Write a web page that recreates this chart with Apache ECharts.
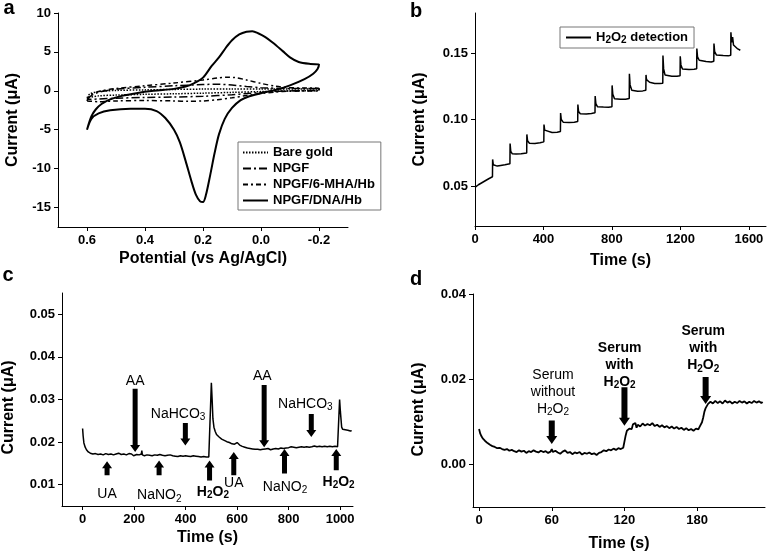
<!DOCTYPE html>
<html>
<head>
<meta charset="utf-8">
<script src="https://cdn.jsdelivr.net/npm/echarts@6/dist/echarts.min.js"></script>
<style>html,body{margin:0;padding:0;background:#fff;}</style>
</head>
<body>
<div id="main" style="width:768px;height:556px;"></div>
<script>
var FONT = 'Liberation Sans, Arial, Helvetica, sans-serif';

// ---- panel a : cyclic voltammograms [potential V, current uA]
var cvNames = ['Bare gold', 'NPGF', 'NPGF/6-MHA/Hb', 'NPGF/DNA/Hb'];
var cvBare = [[0.6,-0.9],[0.59,-0.4],[0.56,-0.1],[0.5,0.05],[0.4,0.12],[0.3,0.18],[0.2,0.22],[0.1,0.22],[0.0,0.22],[-0.1,0.22],[-0.2,0.25],
  [-0.2,0.05],[-0.1,0.0],[0.0,-0.1],[0.1,-0.2],[0.2,-0.3],[0.3,-0.38],[0.4,-0.45],[0.5,-0.55],[0.56,-0.65],[0.6,-0.9]];
var cvNpgf = [[0.6,-1.1],[0.58,-0.5],[0.55,-0.1],[0.5,0.2],[0.4,0.45],[0.3,0.65],[0.2,0.8],[0.15,0.85],[0.1,0.75],[0.05,0.55],[0.0,0.4],[-0.1,0.3],[-0.2,0.3],
  [-0.2,0.1],[-0.1,0.0],[0.0,-0.2],[0.05,-0.35],[0.1,-0.5],[0.2,-0.7],[0.3,-0.8],[0.4,-0.85],[0.5,-0.95],[0.56,-1.05],[0.6,-1.1]];
var cvMha = [[0.6,-1.3],[0.59,-0.6],[0.56,-0.1],[0.5,0.3],[0.4,0.65],[0.3,1.0],[0.2,1.4],[0.15,1.65],[0.12,1.75],[0.09,1.7],[0.05,1.4],[0.0,0.95],[-0.05,0.6],[-0.1,0.4],[-0.2,0.3],
  [-0.2,0.0],[-0.1,-0.05],[-0.05,-0.15],[0.0,-0.35],[0.05,-0.6],[0.1,-0.9],[0.15,-1.15],[0.2,-1.3],[0.25,-1.35],[0.3,-1.3],[0.4,-1.25],[0.5,-1.3],[0.56,-1.4],[0.6,-1.3]];
var cvDna = [[0.6,-5.0],[0.585,-3.6],[0.56,-2.9],[0.52,-2.5],[0.45,-2.3],[0.4,-2.3],[0.36,-2.6],[0.33,-3.5],[0.3,-5.0],[0.28,-6.6],[0.26,-9.0],[0.24,-11.6],[0.225,-13.3],[0.21,-14.2],[0.2,-14.3],
  [0.19,-13.4],[0.175,-10.8],[0.16,-8.0],[0.145,-5.6],[0.125,-3.6],[0.1,-2.2],[0.07,-1.2],[0.04,-0.7],[0.0,-0.3],[-0.05,0.1],[-0.1,0.7],[-0.15,1.5],[-0.18,2.2],[-0.195,2.8],[-0.2,3.4],
  [-0.17,3.45],[-0.13,3.7],[-0.1,4.3],[-0.075,5.1],[-0.04,6.2],[-0.015,6.9],[0.01,7.4],[0.03,7.65],[0.05,7.6],[0.075,7.25],[0.1,6.5],[0.12,5.6],[0.145,4.3],[0.17,3.2],[0.2,1.7],
  [0.23,1.0],[0.26,0.55],[0.3,0.25],[0.37,0.0],[0.43,-0.3],[0.48,-0.65],[0.52,-1.1],[0.55,-1.7],[0.57,-2.4],[0.585,-3.3],[0.6,-5.0]];
var aTicksX = [-0.2, 0, 0.2, 0.4, 0.6];
var aTicksY = [-15, -10, -5, 0, 5, 10];

// ---- panel b : H2O2 additions [time s, current uA]
var ampB = [[0,0.049],[10,0.0505],[20,0.051],[40,0.0525],[60,0.054],[80,0.0555],[102,0.057],
  [103,0.070],[107,0.066],[115,0.0652],[130,0.0650],[150,0.0655],[175,0.066],[204,0.0668],
  [205,0.082],[209,0.076],[218,0.0742],[240,0.0740],[270,0.0742],[302,0.0748],
  [303,0.0888],[307,0.084],[318,0.0822],[350,0.082],[380,0.0825],[402,0.0832],
  [403,0.0962],[407,0.092],[418,0.0905],[450,0.0902],[480,0.0905],[499,0.091],
  [500,0.1048],[504,0.100],[515,0.098],[550,0.0978],[580,0.098],[600,0.0985],
  [601,0.1112],[605,0.106],[615,0.1043],[650,0.1042],[680,0.1045],[701,0.105],
  [702,0.1176],[706,0.112],[716,0.1095],[750,0.1093],[780,0.1092],[800,0.1095],
  [801,0.1256],[805,0.119],[815,0.1155],[850,0.1152],[880,0.1152],[901,0.1158],
  [902,0.1344],[906,0.126],[916,0.122],[950,0.1212],[980,0.1215],[998,0.122],
  [999,0.1335],[1002,0.130],[1010,0.1295],[1020,0.128],[1050,0.127],[1080,0.127],[1097,0.1272],
  [1098,0.148],[1102,0.138],[1110,0.1335],[1150,0.1325],[1180,0.1325],[1198,0.1328],
  [1199,0.1475],[1203,0.141],[1212,0.138],[1250,0.1375],[1280,0.1378],[1295,0.1382],
  [1296,0.1533],[1300,0.147],[1310,0.1445],[1350,0.1435],[1380,0.1432],[1395,0.1438],
  [1396,0.157],[1400,0.151],[1410,0.1485],[1450,0.148],[1480,0.1478],[1494,0.1482],
  [1495,0.1655],[1499,0.158],[1505,0.162],[1510,0.156],[1520,0.1545],[1535,0.153],[1550,0.152]];
var bTicksX = [0, 400, 800, 1200, 1600];
var bTicksY = [0.05, 0.10, 0.15];

// ---- panel c : interference test
var ampC = [[0,0.0232],[2,0.0215],[5,0.0198],[10,0.0188],[15,0.0182],[22,0.0177],[30,0.0174],[40,0.0172],[50,0.0173],[60,0.0171],[70,0.0172],[80,0.0170],[90,0.0173],
  [100,0.0171],[110,0.0172],[120,0.0170],[130,0.0172],[140,0.0174],[150,0.0171],[160,0.0172],[170,0.0170],[180,0.0173],[190,0.0172],[198,0.0168],[200,0.0165],[203,0.0172],
  [210,0.0171],[220,0.0170],[228,0.0172],[230,0.0180],[232,0.0170],[240,0.0168],[250,0.0170],[260,0.0169],[270,0.0168],[280,0.0170],[290,0.0169],[300,0.0171],[310,0.0169],
  [320,0.0168],[330,0.0169],[340,0.0170],[350,0.0168],[360,0.0167],[370,0.0166],[380,0.0168],[390,0.0167],[400,0.0168],[410,0.0167],[420,0.0166],[430,0.0168],[440,0.0167],
  [450,0.0166],[460,0.0165],[470,0.0166],[480,0.0165],[490,0.0165],[497,0.0166],[500,0.0339],[503,0.0300],[506,0.0255],[510,0.0235],[515,0.0225],[520,0.0218],[530,0.0212],
  [540,0.0207],[550,0.0204],[560,0.0201],[570,0.0199],[580,0.0196],[590,0.0195],[600,0.0199],[605,0.0197],[610,0.0193],[620,0.0190],[630,0.0188],[640,0.0186],[650,0.0185],
  [660,0.0184],[670,0.0183],[680,0.0183],[690,0.0182],[700,0.0183],[710,0.0184],[715,0.0180],[720,0.0185],[725,0.0183],[730,0.0182],[740,0.0184],[750,0.0185],[760,0.0184],
  [770,0.0186],[780,0.0185],[790,0.0186],[800,0.0187],[810,0.0189],[820,0.0188],[830,0.0187],[840,0.0188],[850,0.0189],[860,0.0188],[870,0.0189],[880,0.0188],[890,0.0189],
  [900,0.0191],[910,0.0189],[920,0.0190],[930,0.0189],[940,0.0190],[950,0.0189],[960,0.0190],[970,0.0189],[980,0.0190],[990,0.0189],[996,0.0189],[998,0.0300],[1001,0.0272],
  [1004,0.0270],[1006,0.0235],[1010,0.0230],[1020,0.0229],[1030,0.0228],[1040,0.0226],[1045,0.0227]];
var arrowsC = [[95,0.0122,0.0155],[204,0.0325,0.0177],[297,0.0122,0.0157],[399,0.0245,0.0192],[493,0.0110,0.0157],
  [587,0.0122,0.0177],[705,0.0334,0.0188],[784,0.0126,0.0184],[888,0.0266,0.0212],[985,0.0134,0.0184]];
var labelsC = [[95,0.0079,'UA',false],[204,0.0344,'AA',false],[298,0.0075,'NaNO2',false],[371,0.0266,'NaHCO3',false],[506,0.0083,'H2O2',true],
  [587,0.0103,'UA',false],[698,0.0356,'AA',false],[786,0.0095,'NaNO2',false],[865,0.0290,'NaHCO3',false],[994,0.0106,'H2O2',true]];
var cTicksX = [0, 200, 400, 600, 800, 1000];
var cTicksY = [0.01, 0.02, 0.03, 0.04, 0.05];

// ---- panel d : serum samples
var ampD = [[0,0.0083],[1,0.0072],[2,0.0066],[3,0.0061],[5,0.0055],[7,0.0050],[9,0.0046],[11,0.0043],[13,0.0041],[15,0.0038],[17,0.0039],[19,0.0036],[21,0.0034],[23,0.0036],
  [25,0.0032],[27,0.0034],[29,0.0031],[31,0.0029],[33,0.0033],[35,0.0030],[37,0.0032],[39,0.0027],[41,0.0031],[43,0.0029],[45,0.0033],[47,0.0030],[49,0.0028],[51,0.0032],
  [53,0.0029],[55,0.0031],[57,0.0027],[59,0.0030],[60,0.0036],[61,0.0029],[63,0.0032],[65,0.0028],[67,0.0025],[69,0.0030],[71,0.0033],[73,0.0027],[75,0.0029],[77,0.0024],
  [79,0.0028],[81,0.0026],[83,0.0029],[85,0.0023],[87,0.0027],[89,0.0025],[91,0.0028],[93,0.0024],[95,0.0026],[97,0.0022],[99,0.0027],[101,0.0029],[103,0.0033],[105,0.0031],
  [107,0.0035],[109,0.0033],[111,0.0037],[113,0.0034],[115,0.0038],[117,0.0036],[119,0.0039],[120,0.0040],[121,0.0068],[122,0.0079],[123,0.0077],[124,0.0084],[125,0.0088],
  [126,0.0083],[127,0.0094],[128,0.0090],[129,0.0097],[130,0.0086],[131,0.0093],[133,0.0089],[135,0.0096],[137,0.0091],[139,0.0095],[141,0.0092],[143,0.0097],[145,0.0090],
  [147,0.0093],[149,0.0088],[151,0.0092],[153,0.0087],[155,0.0090],[157,0.0085],[159,0.0089],[161,0.0084],[163,0.0088],[165,0.0083],[167,0.0086],[169,0.0081],[171,0.0085],
  [173,0.0080],[175,0.0083],[177,0.0079],[179,0.0084],[181,0.0082],[182,0.0088],[183,0.0090],[184,0.0099],[185,0.0110],[186,0.0124],[187,0.0132],[188,0.0136],[189,0.0142],
  [190,0.0139],[191,0.0147],[193,0.0143],[195,0.0149],[197,0.0144],[199,0.0148],[201,0.0143],[203,0.0150],[205,0.0145],[207,0.0148],[209,0.0143],[211,0.0147],[213,0.0144],
  [215,0.0149],[217,0.0145],[219,0.0148],[221,0.0143],[223,0.0147],[225,0.0144],[227,0.0149],[229,0.0145],[231,0.0148],[233,0.0144],[234,0.0147]];
var arrowsD = [[60,0.0103,0.0048],[120,0.0181,0.0091],[187,0.0205,0.0142]];
var labelsD = [[61,0.0170,'Serum\nwithout\nH2O2',false],[116,0.0233,'Serum\nwith\nH2O2',true],[185,0.0272,'Serum\nwith\nH2O2',true]];
var dTicksX = [0, 60, 120, 180];
var dTicksY = [0, 0.02, 0.04];

// digits -> subscripts (rich text)
function chem(txt, bold) {
  return txt.replace(/(\d)/g, bold ? '{sb|$1}' : '{s|$1}');
}
var subRich = {
  s: {fontSize: 10, lineHeight: 10, verticalAlign: 'bottom', fontFamily: FONT},
  sb: {fontSize: 10, lineHeight: 10, verticalAlign: 'bottom', fontFamily: FONT, fontWeight: 'bold'}
};

function axis(gi, min, max, ticks, fmt, name, gap, extra) {
  var o = {
    type: 'value', gridIndex: gi, min: min, max: max,
    splitLine: {show: false},
    axisLine: {show: true, onZero: false, lineStyle: {color: '#000', width: 1}},
    axisTick: {show: true, length: 4, customValues: ticks, lineStyle: {color: '#000'}},
    axisLabel: {customValues: ticks, color: '#000', fontSize: 13, fontWeight: 'bold', fontFamily: FONT, margin: 7,
      formatter: function (v) { return fmt < 0 ? String(v) : v.toFixed(fmt); }},
    name: name, nameLocation: 'middle', nameGap: gap,
    nameTextStyle: {color: '#000', fontSize: 16, fontWeight: 'bold', fontFamily: FONT}
  };
  return Object.assign(o, extra || {});
}

function arrowSeries(gi, data, shaft, head, headLen) {
  return {
    type: 'custom', xAxisIndex: gi, yAxisIndex: gi, data: data, silent: true,
    renderItem: function (params, api) {
      var p0 = api.coord([api.value(0), api.value(1)]);
      var p1 = api.coord([api.value(0), api.value(2)]);
      var d = p1[1] > p0[1] ? 1 : -1;
      var x = p0[0], yb = p1[1] - d * headLen;
      return {
        type: 'polygon',
        shape: {points: [[x - shaft / 2, p0[1]], [x + shaft / 2, p0[1]], [x + shaft / 2, yb], [x + head / 2, yb],
          [x, p1[1]], [x - head / 2, yb], [x - shaft / 2, yb]]},
        style: {fill: '#000'}
      };
    }
  };
}

function textSeries(gi, data, size) {
  return {
    type: 'custom', xAxisIndex: gi, yAxisIndex: gi, silent: true,
    data: data.map(function (d) { return [d[0], d[1]]; }),
    renderItem: function (params, api) {
      var item = data[params.dataIndex];
      var p = api.coord([api.value(0), api.value(1)]);
      return {
        type: 'text', x: p[0], y: p[1],
        style: {
          text: chem(item[2], item[3]), fill: '#000', fontSize: size, fontFamily: FONT,
          fontWeight: item[3] ? 'bold' : 'normal', align: 'center', verticalAlign: 'middle',
          lineHeight: 17, rich: subRich
        }
      };
    }
  };
}

var cvStyles = [
  {width: 1.5, type: [1.5, 1.5]},
  {width: 1.5, type: [8, 3, 2, 3]},
  {width: 1.5, type: [5, 3, 2, 3]},
  {width: 2, type: 'solid'}
];
var cvData = [cvBare, cvNpgf, cvMha, cvDna];

var series = cvData.map(function (d, i) {
  return {
    name: cvNames[i], type: 'line', xAxisIndex: 0, yAxisIndex: 0, data: d,
    showSymbol: false, symbol: 'none', smooth: 0.3,
    lineStyle: {color: '#000', width: cvStyles[i].width, type: cvStyles[i].type},
    itemStyle: {color: '#000'}
  };
});
series.push({name: 'H2O2 detection', type: 'line', xAxisIndex: 1, yAxisIndex: 1, data: ampB,
  showSymbol: false, symbol: 'none', lineStyle: {color: '#000', width: 1.5}, itemStyle: {color: '#000'}});
series.push({type: 'line', xAxisIndex: 2, yAxisIndex: 2, data: ampC,
  showSymbol: false, symbol: 'none', lineStyle: {color: '#000', width: 1.5}});
series.push(arrowSeries(2, arrowsC, 5, 10, 7));
series.push(textSeries(2, labelsC, 14));
series.push({type: 'line', xAxisIndex: 3, yAxisIndex: 3, data: ampD,
  showSymbol: false, symbol: 'none', lineStyle: {color: '#000', width: 1.8}});
series.push(arrowSeries(3, arrowsD, 6, 11, 8));
series.push(textSeries(3, labelsD, 14));

var noSymbol = {color: 'rgba(0,0,0,0)', borderColor: 'rgba(0,0,0,0)', borderWidth: 0};

var chart = echarts.init(document.getElementById('main'));
var option = {
  animation: false,
  textStyle: {fontFamily: FONT},
  grid: [
    {left: 58, top: 13, width: 290, height: 214},
    {left: 475, top: 13, width: 291, height: 213},
    {left: 62, top: 293, width: 291, height: 213},
    {left: 473, top: 294, width: 292, height: 213}
  ],
  xAxis: [
    axis(0, -0.3, 0.7, aTicksX, 1, 'Potential (vs Ag/AgCl)', 24, {inverse: true}),
    axis(1, 0, 1700, bTicksX, -1, 'Time (s)', 27),
    axis(2, -80, 1050, cTicksX, -1, 'Time (s)', 24),
    axis(3, -5, 236, dTicksX, -1, 'Time (s)', 29)
  ],
  yAxis: [
    axis(0, -17.5, 10, aTicksY, -1, 'Current (\u03bcA)', 37),
    axis(1, 0.02, 0.18, bTicksY, 2, 'Current (\u03bcA)', 47),
    axis(2, 0.005, 0.055, cTicksY, 2, 'Current (\u03bcA)', 45),
    axis(3, -0.01, 0.04, dTicksY, 2, 'Current (\u03bcA)', 46)
  ],
  legend: [
    {
      data: cvNames, left: 238, top: 142, orient: 'vertical', selectedMode: false,
      itemWidth: 25, itemHeight: 10, itemGap: 3, padding: [4, 6, 3, 4],
      borderColor: '#777', borderWidth: 1, itemStyle: noSymbol,
      textStyle: {color: '#000', fontSize: 13, fontWeight: 'bold', fontFamily: FONT, lineHeight: 13}
    },
    {
      data: ['H2O2 detection'], left: 560, top: 27, selectedMode: false,
      itemWidth: 25, itemHeight: 10, padding: [3, 6, 3, 5],
      borderColor: '#777', borderWidth: 1, itemStyle: noSymbol,
      formatter: function (n) { return chem(n, true); },
      textStyle: {color: '#000', fontSize: 13, fontWeight: 'bold', fontFamily: FONT, lineHeight: 15, rich: subRich}
    }
  ],
  graphic: [
    {type: 'text', style: {text: 'a', x: 9, y: 8, font: 'bold 20px ' + FONT, align: 'center', verticalAlign: 'middle', fill: '#000'}},
    {type: 'text', style: {text: 'b', x: 416, y: 11, font: 'bold 20px ' + FONT, align: 'center', verticalAlign: 'middle', fill: '#000'}},
    {type: 'text', style: {text: 'c', x: 8, y: 275, font: 'bold 20px ' + FONT, align: 'center', verticalAlign: 'middle', fill: '#000'}},
    {type: 'text', style: {text: 'd', x: 416, y: 279, font: 'bold 20px ' + FONT, align: 'center', verticalAlign: 'middle', fill: '#000'}}
  ],
  series: series
};
// shift the lower panels' y titles down a little, as in the original
option.yAxis[2].nameTextStyle.padding = [0, 16, 0, 0];
option.yAxis[3].nameTextStyle.padding = [0, 18, 0, 0];
chart.setOption(option);
</script>
</body>
</html>
